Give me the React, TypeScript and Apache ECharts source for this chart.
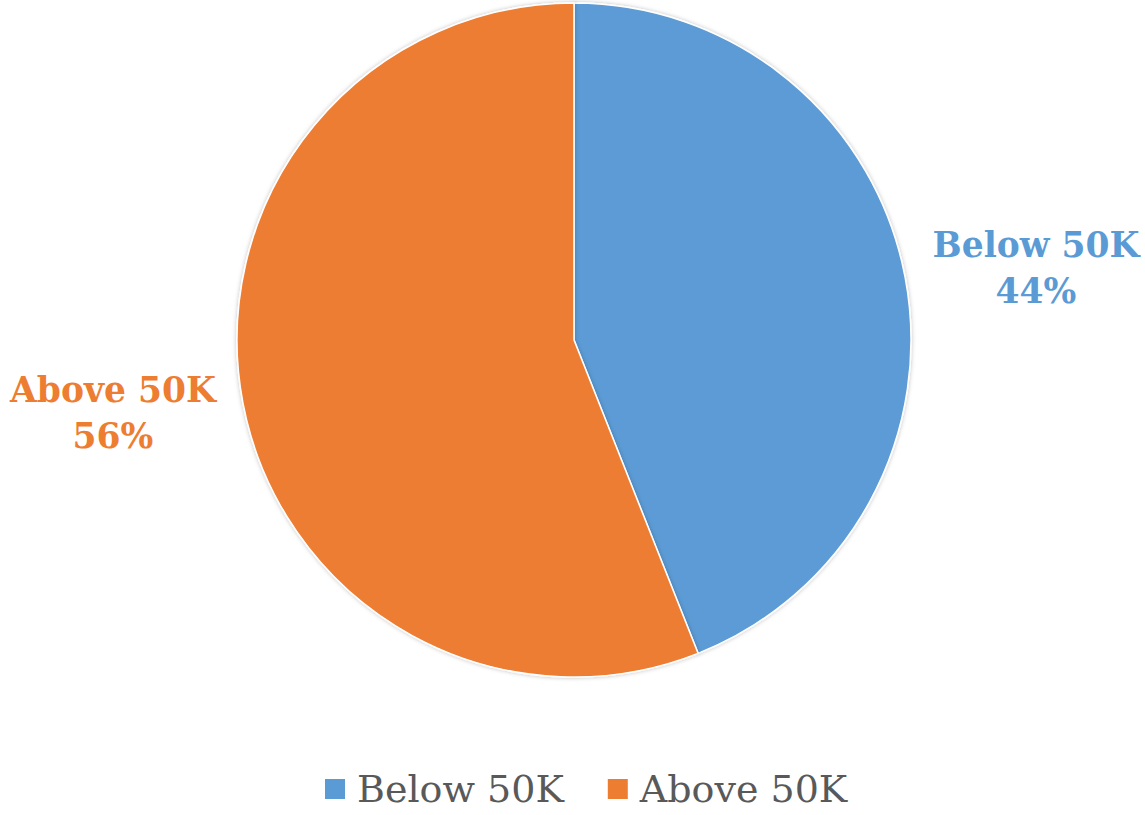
import React, { useEffect, useRef } from "react";
import * as echarts from "echarts";

const categories = ["Below 50K", "Above 50K"];
const values = [44, 56];
const colors = ["#5B9BD5", "#ED7D31"];

export default function App() {
  const ref = useRef<HTMLDivElement>(null);
  useEffect(() => {
    document.body.style.margin = "0";
    const chart = echarts.init(ref.current!, null, { renderer: "svg" });
    const labelPos: Record<string, [number, number]> = {
      "Below 50K": [1036, 268],
      "Above 50K": [113, 413],
    };
    chart.setOption({
      animation: false,
      backgroundColor: "#ffffff",
      color: colors,
      legend: {
        bottom: 2,
        left: 318,
        itemWidth: 22,
        itemHeight: 22,
        itemGap: 42,
        icon: "rect",
        textStyle: {
          fontFamily: "DejaVu Serif",
          fontSize: 38,
          color: "#595959",
          padding: [0, 0, 0, 6],
        },
        data: categories,
      },
      series: [
        {
          type: "pie",
          center: [574, 340],
          radius: 337,
          startAngle: 90,
          clockwise: true,
          itemStyle: {
            borderColor: "#ffffff",
            borderWidth: 1.5,
            shadowBlur: 4,
            shadowColor: "rgba(0,0,0,0.25)",
          },
          label: {
            show: true,
            position: "outside",
            formatter: (p: any) => `${p.name}\n${p.value}%`,
            fontFamily: "DejaVu Serif",
            fontWeight: "bold",
            fontSize: 34.5,
            lineHeight: 46,
            align: "center",
            overflow: "none",
            width: 400,
            color: "inherit",
          },
          labelLine: { show: false },
          labelLayout: (params: any) => {
            const name = categories[params.dataIndex];
            const [x, y] = labelPos[name];
            return { x, y, align: "center", verticalAlign: "middle" };
          },
          data: categories.map((c, i) => ({
            name: c,
            value: values[i],
            label: { color: colors[i] },
          })),
        },
      ],
    });
    return () => chart.dispose();
  }, []);
  return <div ref={ref} style={{ width: 1145, height: 815 }} />;
}
